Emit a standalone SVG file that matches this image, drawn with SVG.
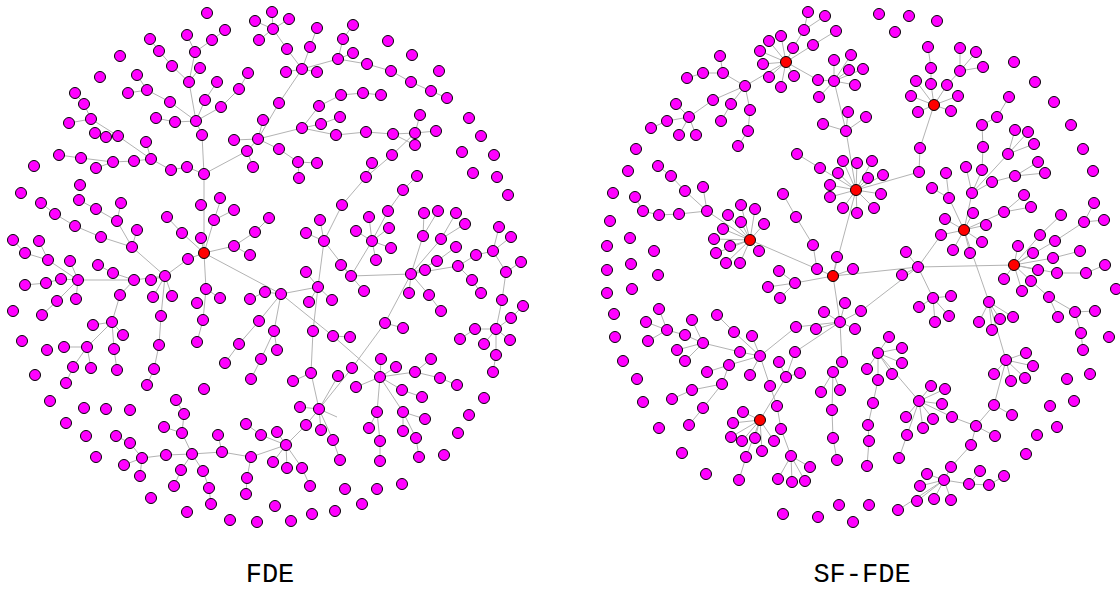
<svg xmlns="http://www.w3.org/2000/svg" width="1120" height="590" viewBox="0 0 1120 590">
<style>
.e{fill:none;stroke:#b3b3b3;stroke-width:1}
.nodes circle{r:5.5px;fill:#ff00ff;stroke:#000;stroke-width:1}
.nodes circle.h{fill:#ff0000}
.lbl{font-family:"Liberation Mono","DejaVu Sans Mono",monospace;font-size:27px;fill:#000;text-anchor:middle}
</style>
<rect width="1120" height="590" fill="#fff"/>
<g id="connectors">
<path class="e" d="M272,12L273,29M255,21L273,29M289,19L273,29M259,40L273,29M273,29L287,49L302,69M317,28L310,47L302,69M286,72L302,69M317,72L302,69M353,25L343,39L338,59M353,53L338,59M302,69L338,59L367,64L391,71L411,82L431,91L447,98M187,35L195,52L212,40L225,30M195,52L189,82M150,39L159,51L172,66L189,82M200,68L189,82M189,82L196,121M217,82L205,100L196,121M248,73L239,89L221,107L196,121M137,75L147,90L170,102L196,121M128,93L147,90M156,118L175,122L196,121M196,121L202,135L204,174M75,93L84,104L91,119L118,136L151,159M69,123L91,119M146,142L151,159M59,155L81,158L113,162L134,161L151,159M96,168L113,162M151,159L171,170L187,167L204,174M204,174L247,151L258,139L279,103L302,69M247,151L253,167M258,139L234,140M258,139L263,120M258,139L279,149M258,139L302,128M319,106L341,95L363,93L381,95M319,106L302,128M340,117L321,124L302,128M302,128L336,135L366,132L393,134L415,133M420,115L415,133M436,131L415,133M393,134L415,145M415,133L392,155L366,177L342,205L324,241M372,163L366,177M279,149L298,162L317,163M298,162L299,178M417,176L403,190L388,211L372,241"/>
<path class="e" d="M204,174L204,253M221,199L214,220L204,253M234,210L214,220M201,238L204,253M167,217L182,233L204,253M269,218L255,232L234,246L204,253M250,255L234,246M204,253L188,259L165,276L134,280M204,253L206,289L203,320L197,342M220,298L206,289M204,253L281,294M79,200L96,209L117,221L132,247M121,203L117,221M41,203L55,214L75,226L101,237L132,247M137,230L132,247M132,247L165,276M151,280L165,276M153,297L165,276M172,296L165,276M165,276L161,316L159,345L154,369L147,385M98,265L113,273L134,280M134,280L78,280L61,279L46,283L25,285M70,261L78,280M48,260L78,280M39,241L48,260M13,240L25,253L48,260M76,299L78,280M42,315L57,301L78,280M134,280L120,295L112,322M93,325L112,322M123,335L112,322M117,370L114,349L112,322M64,347L87,347L112,322M66,383L73,367L87,347M91,368L87,347M281,294L265,292L250,299M281,294L259,321L239,344L225,363M281,294L274,331L261,359L251,379M274,331L277,350"/>
<path class="e" d="M324,241L320,220M324,241L306,233M324,241L318,287M324,241L351,276M351,276L341,265M351,276L364,291M351,276L411,274M351,276L372,241M372,241L369,217M372,241L356,231M372,241L389,228M372,241L391,248M372,241L376,260M318,287L281,294M306,272L318,287M332,300L318,287M309,302L318,287M318,287L313,331L311,373L293,381M311,373L319,409M281,294L333,336L380,377M333,336L350,337M411,274L409,293M411,274L429,295L441,311M411,274L423,236L424,213M423,236L438,211M411,274L441,239L456,213M441,239L465,224M411,274L437,261L456,247M411,274L425,270M411,274L458,266M458,266L476,255L493,251M458,266L472,280L481,293M493,251L499,227M493,251L511,237M493,251L506,272L502,300L496,329M506,272L521,262M496,329L475,329L460,339M496,329L484,344M496,329L510,340M496,329L511,318L523,306M496,329L496,355L493,372M411,274L385,323L352,368L319,409M385,323L403,328M338,376L319,409M380,377L381,359M380,377L396,367M380,377L415,372L431,359M415,372L440,378L457,385M380,377L356,387"/>
<path class="e" d="M176,400L184,414L182,433L192,454M164,427L182,433M116,436L130,443L142,458M124,465L142,458M140,476L142,458M142,458L166,455L192,454L222,452L251,457M218,435L222,452M192,454L181,470L174,486M192,454L203,471L209,488L211,504M251,457L247,478L246,494M251,457L286,445M246,424L261,435L286,445M277,432L286,445M273,462L286,445M287,468L286,445M286,445L302,468L310,486M286,445L306,425L319,409M319,409L300,407M319,409L337,417M319,409L321,430M319,409L333,440L340,460M380,377L377,412L369,428M377,412L380,441L380,461M380,377L403,412L425,419M403,412L403,431M403,412L416,438L419,457M380,377L402,390L422,397"/>
<path class="e" d="M808,12L804,30M825,16L804,30M804,30L793,48L786,62M836,31L813,45L786,62M786,62L769,41M786,62L781,36M786,62L760,51M786,62L763,64M786,62L769,77M786,62L794,76M786,62L781,87M786,62L818,80L834,81M786,62L745,86M745,86L723,73L720,56M723,73L703,73L687,78M745,86L731,104L721,121M745,86L750,110L748,131L738,146M745,86L713,100L689,117M689,117L667,121L651,128M689,117L679,135M689,117L696,135M689,117L676,104M834,81L834,60M834,81L851,55M834,81L849,70M834,81L855,85M834,81L819,97M834,81L863,69M834,81L846,131M848,112L846,131M823,124L846,131M866,117L846,131M846,131L856,190M797,154L820,168L856,190M843,161L856,190M857,163L856,190M872,161L856,190M838,173L856,190M830,185L856,190M830,197L856,190M868,178L856,190M883,175L856,190M881,194L856,190M843,208L856,190M857,213L856,190M874,208L856,190M856,190L919,172L920,148L934,105M934,105L947,85L960,71M960,48L960,71M976,52L960,71M983,67L960,71M928,47L931,68L931,84L934,105M916,81L934,105M911,96L934,105M958,96L934,105M918,112L934,105M951,111L934,105M856,190L833,276"/>
<path class="e" d="M932,188L949,198L964,230M946,173L949,198M964,230L972,193M964,230L945,219M964,230L973,213M964,230L986,225M964,230L941,235M964,230L982,242M964,230L953,250M964,230L970,253M964,230L1004,212M1004,212L1024,195M1004,212L1031,207M972,193L966,167M972,193L982,170L983,147L982,125L997,117L1009,97M972,193L992,182L1015,176L1038,162M1015,176L1045,173M972,193L1008,154M1008,154L1015,130M1008,154L1028,132M1008,154L1034,144M964,230L989,302M989,302L979,322M989,302L1000,319M989,302L1013,317M989,302L992,330M989,302L1006,360M1006,360L1026,353M1006,360L1033,366M1006,360L994,374M1006,360L1025,378M1006,360L1011,381M1006,360L994,405M994,405L1012,415M994,405L976,426M976,426L952,417L919,401M976,426L995,436M976,426L971,445L951,467L944,480M919,401L931,386M919,401L945,389M919,401L942,404M919,401L906,417M919,401L933,419M919,401L923,428M919,401L907,435L899,458M878,353L919,401M878,353L889,337M878,353L902,348M878,353L867,369M878,353L892,374M878,353L878,380M878,353L902,363M878,380L873,403L868,425L869,441L867,466M944,480L927,474M944,480L920,486M944,480L969,484M944,480L917,501M944,480L934,499M944,480L951,500M944,480L898,510M969,484L980,471M969,484L989,485L1004,476"/>
<path class="e" d="M941,235L918,267M918,267L906,252M918,267L902,275M918,267L933,298M933,298L951,296M933,298L919,307M933,298L935,322M933,298L949,316M918,267L1014,265M833,276L918,267M918,267L861,311L840,322M1014,265L1004,279M1014,265L1022,291M1014,265L1038,270M1014,265L1018,246M1014,265L1033,253M1014,265L1031,281M1014,265L1057,273M1014,265L1040,235M1014,265L1055,241M1014,265L1053,258M1040,235L1061,215M1055,241L1084,222L1094,203M1084,222L1104,220M1053,258L1080,251M1057,273L1086,273L1105,265M1031,281L1049,297L1075,312L1095,311M1049,297L1058,317M1075,312L1081,333L1083,350"/>
<path class="e" d="M750,240L741,205M750,240L755,209M750,240L728,215M750,240L741,222M750,240L764,224M750,240L723,229M750,240L714,239M750,240L730,246M750,240L716,253M750,240L759,251M750,240L726,263M750,240L740,263M750,240L707,211M707,211L679,214L659,215L643,211L635,197M707,211L685,191L671,176L658,166M707,211L703,187M750,240L817,269L833,276M783,194L796,217L813,245L817,269M833,276L837,257M833,276L853,269M833,276L795,283M795,283L779,271M795,283L768,287M795,283L780,298M833,276L840,322L842,362L833,372L832,410L833,438L837,460M833,372L821,392M833,372L840,390M840,322L845,303M840,322L824,312M840,322L816,329M840,322L855,329M840,322L796,327M840,322L795,352L786,377L760,420M786,377L779,362M786,377L800,373M796,327L760,356M703,343L740,352L760,356M717,315L734,332L760,356M752,336L760,356M707,372L729,365L760,356M750,375L760,356M729,365L722,384M760,356L770,386L777,406L781,429L791,456M791,456L810,467M791,456L778,479M791,456L792,482M791,456L805,481M703,343L685,335L667,330M703,343L692,320M703,343L677,350M703,343L685,361M667,330L659,309M667,330L646,322M667,330L648,341M760,420L743,412M760,420L733,423M760,420L731,437M760,420L742,441M760,420L755,438M760,420L774,441M760,420L762,451M760,420L746,457M746,457L739,480M722,384L692,390L672,399M722,384L703,408L689,425"/>
</g>
<g id="fde-nodes" class="nodes">
<circle id="f1" cx="207" cy="13"/><circle id="f2" cx="272" cy="12"/><circle id="f3" cx="255" cy="21"/><circle id="f4" cx="289" cy="19"/><circle id="f5" cx="273" cy="29"/><circle id="f6" cx="225" cy="30"/><circle id="f7" cx="187" cy="35"/><circle id="f8" cx="150" cy="39"/><circle id="f9" cx="212" cy="40"/><circle id="f10" cx="259" cy="40"/>
<circle id="f11" cx="317" cy="28"/><circle id="f12" cx="353" cy="25"/><circle id="f13" cx="388" cy="41"/><circle id="f14" cx="343" cy="39"/><circle id="f15" cx="310" cy="47"/><circle id="f16" cx="287" cy="49"/><circle id="f17" cx="159" cy="51"/><circle id="f18" cx="195" cy="52"/><circle id="f19" cx="353" cy="53"/><circle id="f20" cx="412" cy="55"/>
<circle id="f21" cx="120" cy="56"/><circle id="f22" cx="338" cy="59"/><circle id="f23" cx="367" cy="64"/><circle id="f24" cx="172" cy="66"/><circle id="f25" cx="200" cy="68"/><circle id="f26" cx="302" cy="69"/><circle id="f27" cx="286" cy="72"/><circle id="f28" cx="317" cy="72"/><circle id="f29" cx="391" cy="71"/><circle id="f30" cx="439" cy="71"/>
<circle id="f31" cx="248" cy="73"/><circle id="f32" cx="137" cy="75"/><circle id="f33" cx="100" cy="77"/><circle id="f34" cx="189" cy="82"/><circle id="f35" cx="217" cy="82"/><circle id="f36" cx="411" cy="82"/><circle id="f37" cx="239" cy="89"/><circle id="f38" cx="147" cy="90"/><circle id="f39" cx="128" cy="93"/><circle id="f40" cx="75" cy="93"/>
<circle id="f41" cx="431" cy="91"/><circle id="f42" cx="341" cy="95"/><circle id="f43" cx="363" cy="93"/><circle id="f44" cx="381" cy="95"/><circle id="f45" cx="447" cy="98"/><circle id="f46" cx="205" cy="100"/><circle id="f47" cx="170" cy="102"/><circle id="f48" cx="279" cy="103"/><circle id="f49" cx="84" cy="104"/><circle id="f50" cx="319" cy="106"/>
<circle id="f51" cx="221" cy="107"/><circle id="f52" cx="340" cy="117"/><circle id="f53" cx="420" cy="115"/><circle id="f54" cx="469" cy="118"/><circle id="f55" cx="156" cy="118"/><circle id="f56" cx="91" cy="119"/><circle id="f57" cx="263" cy="120"/><circle id="f58" cx="196" cy="121"/><circle id="f59" cx="175" cy="122"/><circle id="f60" cx="69" cy="123"/>
<circle id="f61" cx="321" cy="124"/><circle id="f62" cx="302" cy="128"/><circle id="f63" cx="436" cy="131"/><circle id="f64" cx="393" cy="134"/><circle id="f65" cx="415" cy="133"/><circle id="f66" cx="366" cy="132"/><circle id="f67" cx="336" cy="135"/><circle id="f68" cx="481" cy="136"/><circle id="f69" cx="95" cy="133"/><circle id="f70" cx="106" cy="137"/>
<circle id="f71" cx="118" cy="136"/><circle id="f72" cx="202" cy="135"/><circle id="f73" cx="234" cy="140"/><circle id="f74" cx="258" cy="139"/><circle id="f75" cx="146" cy="142"/><circle id="f76" cx="415" cy="145"/><circle id="f77" cx="279" cy="149"/><circle id="f78" cx="247" cy="151"/><circle id="f79" cx="462" cy="152"/><circle id="f80" cx="494" cy="155"/>
<circle id="f81" cx="392" cy="155"/><circle id="f82" cx="59" cy="155"/><circle id="f83" cx="81" cy="158"/><circle id="f84" cx="151" cy="159"/><circle id="f85" cx="134" cy="161"/><circle id="f86" cx="113" cy="162"/><circle id="f87" cx="298" cy="162"/><circle id="f88" cx="317" cy="163"/><circle id="f89" cx="372" cy="163"/><circle id="f90" cx="34" cy="166"/>
<circle id="f91" cx="96" cy="168"/><circle id="f92" cx="171" cy="170"/><circle id="f93" cx="187" cy="167"/><circle id="f94" cx="253" cy="167"/><circle id="f95" cx="204" cy="174"/><circle id="f96" cx="473" cy="173"/><circle id="f97" cx="497" cy="177"/><circle id="f98" cx="366" cy="177"/><circle id="f99" cx="417" cy="176"/><circle id="f100" cx="299" cy="178"/>
<circle id="f101" cx="80" cy="185"/><circle id="f102" cx="21" cy="193"/><circle id="f103" cx="220" cy="198"/><circle id="f104" cx="403" cy="190"/><circle id="f105" cx="508" cy="195"/><circle id="f106" cx="79" cy="200"/><circle id="f107" cx="41" cy="203"/><circle id="f108" cx="121" cy="203"/><circle id="f109" cx="201" cy="205"/><circle id="f110" cx="342" cy="205"/>
<circle id="f111" cx="96" cy="209"/><circle id="f112" cx="234" cy="210"/><circle id="f113" cx="388" cy="211"/><circle id="f114" cx="424" cy="213"/><circle id="f115" cx="438" cy="211"/><circle id="f116" cx="456" cy="213"/><circle id="f117" cx="55" cy="214"/><circle id="f118" cx="214" cy="220"/><circle id="f119" cx="117" cy="221"/><circle id="f120" cx="320" cy="220"/>
<circle id="f121" cx="369" cy="217"/><circle id="f122" cx="167" cy="217"/><circle id="f123" cx="269" cy="218"/><circle id="f124" cx="75" cy="226"/><circle id="f125" cx="137" cy="230"/><circle id="f126" cx="356" cy="231"/><circle id="f127" cx="389" cy="228"/><circle id="f128" cx="465" cy="224"/><circle id="f129" cx="499" cy="227"/><circle id="f130" cx="182" cy="233"/>
<circle id="f131" cx="306" cy="233"/><circle id="f132" cx="255" cy="232"/><circle id="f133" cx="101" cy="237"/><circle id="f134" cx="201" cy="238"/><circle id="f135" cx="423" cy="236"/><circle id="f136" cx="441" cy="239"/><circle id="f137" cx="511" cy="237"/><circle id="f138" cx="13" cy="240"/><circle id="f139" cx="39" cy="241"/><circle id="f140" cx="324" cy="241"/>
<circle id="f141" cx="372" cy="241"/><circle id="f142" cx="234" cy="246"/><circle id="f143" cx="132" cy="247"/><circle id="f144" cx="391" cy="248"/><circle id="f145" cx="456" cy="247"/><circle id="f146" cx="25" cy="253"/><circle id="f147" cx="250" cy="255"/><circle id="f148" cx="493" cy="251"/><circle id="f149" cx="476" cy="255"/><circle id="f150" cx="48" cy="260"/>
<circle id="f151" cx="70" cy="261"/><circle id="f152" cx="188" cy="259"/><circle id="f153" cx="376" cy="260"/><circle id="f154" cx="437" cy="261"/><circle id="f155" cx="521" cy="262"/><circle id="f156" cx="98" cy="265"/><circle id="f157" cx="341" cy="265"/><circle id="f158" cx="458" cy="266"/><circle id="f159" cx="425" cy="270"/><circle id="f160" cx="113" cy="273"/>
<circle id="f161" cx="165" cy="276"/><circle id="f162" cx="351" cy="276"/><circle id="f163" cx="411" cy="274"/><circle id="f164" cx="306" cy="272"/><circle id="f165" cx="506" cy="272"/><circle id="f166" cx="78" cy="280"/><circle id="f167" cx="61" cy="279"/><circle id="f168" cx="46" cy="283"/><circle id="f169" cx="25" cy="285"/><circle id="f170" cx="134" cy="280"/>
<circle id="f171" cx="151" cy="280"/><circle id="f172" cx="472" cy="280"/><circle id="f173" cx="206" cy="289"/><circle id="f174" cx="318" cy="287"/><circle id="f175" cx="281" cy="294"/><circle id="f176" cx="265" cy="292"/><circle id="f177" cx="364" cy="291"/><circle id="f178" cx="409" cy="293"/><circle id="f179" cx="481" cy="293"/><circle id="f180" cx="120" cy="295"/>
<circle id="f181" cx="153" cy="297"/><circle id="f182" cx="172" cy="296"/><circle id="f183" cx="429" cy="295"/><circle id="f184" cx="76" cy="299"/><circle id="f185" cx="57" cy="301"/><circle id="f186" cx="220" cy="298"/><circle id="f187" cx="250" cy="299"/><circle id="f188" cx="332" cy="300"/><circle id="f189" cx="309" cy="302"/><circle id="f190" cx="502" cy="300"/>
<circle id="f191" cx="197" cy="303"/><circle id="f192" cx="523" cy="306"/><circle id="f193" cx="13" cy="311"/><circle id="f194" cx="42" cy="315"/><circle id="f195" cx="161" cy="316"/><circle id="f196" cx="441" cy="311"/><circle id="f197" cx="203" cy="320"/><circle id="f198" cx="259" cy="321"/><circle id="f199" cx="112" cy="322"/><circle id="f200" cx="93" cy="325"/>
<circle id="f201" cx="385" cy="323"/><circle id="f202" cx="403" cy="328"/><circle id="f203" cx="511" cy="318"/><circle id="f204" cx="123" cy="335"/><circle id="f205" cx="274" cy="331"/><circle id="f206" cx="313" cy="331"/><circle id="f207" cx="333" cy="336"/><circle id="f208" cx="350" cy="337"/><circle id="f209" cx="475" cy="329"/><circle id="f210" cx="496" cy="329"/>
<circle id="f211" cx="22" cy="341"/><circle id="f212" cx="197" cy="342"/><circle id="f213" cx="239" cy="344"/><circle id="f214" cx="460" cy="339"/><circle id="f215" cx="484" cy="344"/><circle id="f216" cx="510" cy="340"/><circle id="f217" cx="64" cy="347"/><circle id="f218" cx="87" cy="347"/><circle id="f219" cx="47" cy="350"/><circle id="f220" cx="114" cy="349"/>
<circle id="f221" cx="159" cy="345"/><circle id="f222" cx="277" cy="350"/><circle id="f223" cx="496" cy="355"/><circle id="f224" cx="261" cy="359"/><circle id="f225" cx="225" cy="363"/><circle id="f226" cx="381" cy="359"/><circle id="f227" cx="431" cy="359"/><circle id="f228" cx="73" cy="367"/><circle id="f229" cx="91" cy="368"/><circle id="f230" cx="117" cy="370"/>
<circle id="f231" cx="154" cy="369"/><circle id="f232" cx="311" cy="373"/><circle id="f233" cx="352" cy="368"/><circle id="f234" cx="396" cy="367"/><circle id="f235" cx="415" cy="372"/><circle id="f236" cx="493" cy="372"/><circle id="f237" cx="35" cy="375"/><circle id="f238" cx="66" cy="383"/><circle id="f239" cx="147" cy="385"/><circle id="f240" cx="251" cy="379"/>
<circle id="f241" cx="204" cy="389"/><circle id="f242" cx="293" cy="381"/><circle id="f243" cx="338" cy="376"/><circle id="f244" cx="380" cy="377"/><circle id="f245" cx="356" cy="387"/><circle id="f246" cx="440" cy="378"/><circle id="f247" cx="457" cy="385"/><circle id="f248" cx="402" cy="390"/><circle id="f249" cx="422" cy="397"/><circle id="f250" cx="484" cy="398"/>
<circle id="f251" cx="176" cy="400"/><circle id="f252" cx="50" cy="401"/><circle id="f253" cx="84" cy="408"/><circle id="f254" cx="106" cy="409"/><circle id="f255" cx="130" cy="410"/><circle id="f256" cx="300" cy="407"/><circle id="f257" cx="319" cy="409"/><circle id="f258" cx="377" cy="412"/><circle id="f259" cx="403" cy="412"/><circle id="f260" cx="184" cy="414"/>
<circle id="f261" cx="469" cy="415"/><circle id="f262" cx="425" cy="419"/><circle id="f263" cx="66" cy="423"/><circle id="f264" cx="246" cy="424"/><circle id="f265" cx="306" cy="425"/><circle id="f266" cx="164" cy="427"/><circle id="f267" cx="321" cy="430"/><circle id="f268" cx="369" cy="428"/><circle id="f269" cx="403" cy="431"/><circle id="f270" cx="182" cy="433"/>
<circle id="f271" cx="218" cy="435"/><circle id="f272" cx="261" cy="435"/><circle id="f273" cx="277" cy="432"/><circle id="f274" cx="86" cy="436"/><circle id="f275" cx="116" cy="436"/><circle id="f276" cx="458" cy="433"/><circle id="f277" cx="333" cy="440"/><circle id="f278" cx="380" cy="441"/><circle id="f279" cx="416" cy="438"/><circle id="f280" cx="130" cy="443"/>
<circle id="f281" cx="286" cy="445"/><circle id="f282" cx="222" cy="452"/><circle id="f283" cx="192" cy="454"/><circle id="f284" cx="166" cy="455"/><circle id="f285" cx="444" cy="455"/><circle id="f286" cx="96" cy="457"/><circle id="f287" cx="142" cy="458"/><circle id="f288" cx="251" cy="457"/><circle id="f289" cx="419" cy="457"/><circle id="f290" cx="340" cy="460"/>
<circle id="f291" cx="380" cy="461"/><circle id="f292" cx="273" cy="462"/><circle id="f293" cx="124" cy="465"/><circle id="f294" cx="287" cy="468"/><circle id="f295" cx="302" cy="468"/><circle id="f296" cx="181" cy="470"/><circle id="f297" cx="203" cy="471"/><circle id="f298" cx="140" cy="476"/><circle id="f299" cx="247" cy="478"/><circle id="f300" cx="174" cy="486"/>
<circle id="f301" cx="310" cy="486"/><circle id="f302" cx="209" cy="488"/><circle id="f303" cx="345" cy="489"/><circle id="f304" cx="377" cy="489"/><circle id="f305" cx="402" cy="484"/><circle id="f306" cx="246" cy="494"/><circle id="f307" cx="151" cy="498"/><circle id="f308" cx="211" cy="504"/><circle id="f309" cx="362" cy="504"/><circle id="f310" cx="275" cy="506"/>
<circle id="f311" cx="187" cy="512"/><circle id="f312" cx="312" cy="514"/><circle id="f313" cx="335" cy="511"/><circle id="f314" cx="230" cy="520"/><circle id="f315" cx="257" cy="522"/><circle id="f316" cx="291" cy="521"/>
<circle id="f-hub" class="h" cx="204" cy="253"/>
</g>
<g id="sffde-nodes" class="nodes">
<circle id="s1" cx="808" cy="12"/><circle id="s2" cx="879" cy="14"/><circle id="s3" cx="909" cy="16"/><circle id="s4" cx="825" cy="16"/><circle id="s5" cx="937" cy="21"/><circle id="s6" cx="804" cy="30"/><circle id="s7" cx="836" cy="31"/><circle id="s8" cx="895" cy="32"/><circle id="s9" cx="781" cy="36"/><circle id="s10" cx="769" cy="41"/>
<circle id="s11" cx="813" cy="45"/><circle id="s12" cx="928" cy="47"/><circle id="s13" cx="960" cy="48"/><circle id="s14" cx="793" cy="48"/><circle id="s15" cx="760" cy="51"/><circle id="s16" cx="976" cy="52"/><circle id="s17" cx="851" cy="55"/><circle id="s18" cx="720" cy="56"/><circle id="s19" cx="834" cy="60"/><circle id="s20" cx="1014" cy="62"/>
<circle id="s21" cx="763" cy="64"/><circle id="s22" cx="983" cy="67"/><circle id="s23" cx="931" cy="68"/><circle id="s24" cx="849" cy="70"/><circle id="s25" cx="863" cy="69"/><circle id="s26" cx="960" cy="71"/><circle id="s27" cx="703" cy="73"/><circle id="s28" cx="723" cy="73"/><circle id="s29" cx="794" cy="76"/><circle id="s30" cx="769" cy="77"/>
<circle id="s31" cx="687" cy="78"/><circle id="s32" cx="818" cy="80"/><circle id="s33" cx="834" cy="81"/><circle id="s34" cx="916" cy="81"/><circle id="s35" cx="1035" cy="82"/><circle id="s36" cx="931" cy="84"/><circle id="s37" cx="947" cy="85"/><circle id="s38" cx="855" cy="85"/><circle id="s39" cx="745" cy="86"/><circle id="s40" cx="781" cy="87"/>
<circle id="s41" cx="911" cy="96"/><circle id="s42" cx="958" cy="96"/><circle id="s43" cx="1009" cy="97"/><circle id="s44" cx="819" cy="97"/><circle id="s45" cx="713" cy="100"/><circle id="s46" cx="1054" cy="102"/><circle id="s47" cx="676" cy="104"/><circle id="s48" cx="731" cy="104"/><circle id="s49" cx="750" cy="110"/><circle id="s50" cx="918" cy="112"/>
<circle id="s51" cx="951" cy="111"/><circle id="s52" cx="848" cy="112"/><circle id="s53" cx="689" cy="117"/><circle id="s54" cx="866" cy="117"/><circle id="s55" cx="997" cy="117"/><circle id="s56" cx="667" cy="121"/><circle id="s57" cx="721" cy="121"/><circle id="s58" cx="823" cy="124"/><circle id="s59" cx="982" cy="125"/><circle id="s60" cx="1071" cy="125"/>
<circle id="s61" cx="651" cy="128"/><circle id="s62" cx="846" cy="131"/><circle id="s63" cx="748" cy="131"/><circle id="s64" cx="1015" cy="130"/><circle id="s65" cx="1028" cy="132"/><circle id="s66" cx="679" cy="135"/><circle id="s67" cx="696" cy="135"/><circle id="s68" cx="1034" cy="144"/><circle id="s69" cx="738" cy="146"/><circle id="s70" cx="920" cy="148"/>
<circle id="s71" cx="983" cy="147"/><circle id="s72" cx="636" cy="149"/><circle id="s73" cx="1083" cy="149"/><circle id="s74" cx="797" cy="154"/><circle id="s75" cx="1008" cy="154"/><circle id="s76" cx="843" cy="161"/><circle id="s77" cx="857" cy="163"/><circle id="s78" cx="872" cy="161"/><circle id="s79" cx="1038" cy="162"/><circle id="s80" cx="658" cy="166"/>
<circle id="s81" cx="966" cy="167"/><circle id="s82" cx="820" cy="168"/><circle id="s83" cx="982" cy="170"/><circle id="s84" cx="628" cy="171"/><circle id="s85" cx="919" cy="172"/><circle id="s86" cx="946" cy="173"/><circle id="s87" cx="838" cy="173"/><circle id="s88" cx="1045" cy="173"/><circle id="s89" cx="1093" cy="171"/><circle id="s90" cx="671" cy="176"/>
<circle id="s91" cx="883" cy="175"/><circle id="s92" cx="1015" cy="176"/><circle id="s93" cx="868" cy="178"/><circle id="s94" cx="992" cy="182"/><circle id="s95" cx="830" cy="185"/><circle id="s96" cx="703" cy="187"/><circle id="s97" cx="932" cy="188"/><circle id="s98" cx="685" cy="191"/><circle id="s99" cx="613" cy="193"/><circle id="s100" cx="972" cy="193"/>
<circle id="s101" cx="783" cy="194"/><circle id="s102" cx="881" cy="194"/><circle id="s103" cx="1024" cy="195"/><circle id="s104" cx="635" cy="197"/><circle id="s105" cx="830" cy="197"/><circle id="s106" cx="949" cy="198"/><circle id="s107" cx="1094" cy="203"/><circle id="s108" cx="741" cy="205"/><circle id="s109" cx="1031" cy="207"/><circle id="s110" cx="843" cy="208"/>
<circle id="s111" cx="874" cy="208"/><circle id="s112" cx="643" cy="211"/><circle id="s113" cx="707" cy="211"/><circle id="s114" cx="755" cy="209"/><circle id="s115" cx="1004" cy="212"/><circle id="s116" cx="659" cy="215"/><circle id="s117" cx="679" cy="214"/><circle id="s118" cx="728" cy="215"/><circle id="s119" cx="857" cy="213"/><circle id="s120" cx="973" cy="213"/>
<circle id="s121" cx="796" cy="217"/><circle id="s122" cx="945" cy="219"/><circle id="s123" cx="1061" cy="215"/><circle id="s124" cx="610" cy="221"/><circle id="s125" cx="741" cy="222"/><circle id="s126" cx="764" cy="224"/><circle id="s127" cx="1084" cy="222"/><circle id="s128" cx="1104" cy="220"/><circle id="s129" cx="986" cy="225"/><circle id="s130" cx="723" cy="229"/>
<circle id="s131" cx="630" cy="238"/><circle id="s132" cx="714" cy="239"/><circle id="s133" cx="941" cy="235"/><circle id="s134" cx="1040" cy="235"/><circle id="s135" cx="1055" cy="241"/><circle id="s136" cx="982" cy="242"/><circle id="s137" cx="607" cy="246"/><circle id="s138" cx="730" cy="246"/><circle id="s139" cx="813" cy="245"/><circle id="s140" cx="1018" cy="246"/>
<circle id="s141" cx="654" cy="251"/><circle id="s142" cx="716" cy="253"/><circle id="s143" cx="759" cy="251"/><circle id="s144" cx="953" cy="250"/><circle id="s145" cx="970" cy="253"/><circle id="s146" cx="906" cy="252"/><circle id="s147" cx="1033" cy="253"/><circle id="s148" cx="1080" cy="251"/><circle id="s149" cx="837" cy="257"/><circle id="s150" cx="1053" cy="258"/>
<circle id="s151" cx="726" cy="263"/><circle id="s152" cx="740" cy="263"/><circle id="s153" cx="631" cy="264"/><circle id="s154" cx="1105" cy="265"/><circle id="s155" cx="918" cy="267"/><circle id="s156" cx="817" cy="269"/><circle id="s157" cx="853" cy="269"/><circle id="s158" cx="607" cy="270"/><circle id="s159" cx="779" cy="271"/><circle id="s160" cx="1038" cy="270"/>
<circle id="s161" cx="1057" cy="273"/><circle id="s162" cx="1086" cy="273"/><circle id="s163" cx="658" cy="275"/><circle id="s164" cx="902" cy="275"/><circle id="s165" cx="1004" cy="279"/><circle id="s166" cx="1031" cy="281"/><circle id="s167" cx="795" cy="283"/><circle id="s168" cx="768" cy="287"/><circle id="s169" cx="632" cy="289"/><circle id="s170" cx="1116" cy="289"/>
<circle id="s171" cx="607" cy="293"/><circle id="s172" cx="1022" cy="291"/><circle id="s173" cx="780" cy="298"/><circle id="s174" cx="933" cy="298"/><circle id="s175" cx="951" cy="296"/><circle id="s176" cx="1049" cy="297"/><circle id="s177" cx="989" cy="302"/><circle id="s178" cx="845" cy="303"/><circle id="s179" cx="659" cy="309"/><circle id="s180" cx="861" cy="311"/>
<circle id="s181" cx="824" cy="312"/><circle id="s182" cx="614" cy="314"/><circle id="s183" cx="717" cy="315"/><circle id="s184" cx="919" cy="307"/><circle id="s185" cx="949" cy="316"/><circle id="s186" cx="1000" cy="319"/><circle id="s187" cx="1013" cy="317"/><circle id="s188" cx="1058" cy="317"/><circle id="s189" cx="1075" cy="312"/><circle id="s190" cx="1095" cy="311"/>
<circle id="s191" cx="692" cy="320"/><circle id="s192" cx="646" cy="322"/><circle id="s193" cx="840" cy="322"/><circle id="s194" cx="979" cy="322"/><circle id="s195" cx="935" cy="322"/><circle id="s196" cx="667" cy="330"/><circle id="s197" cx="796" cy="327"/><circle id="s198" cx="816" cy="329"/><circle id="s199" cx="855" cy="329"/><circle id="s200" cx="992" cy="330"/>
<circle id="s201" cx="734" cy="332"/><circle id="s202" cx="1081" cy="333"/><circle id="s203" cx="685" cy="335"/><circle id="s204" cx="752" cy="336"/><circle id="s205" cx="615" cy="337"/><circle id="s206" cx="889" cy="337"/><circle id="s207" cx="1109" cy="337"/><circle id="s208" cx="648" cy="341"/><circle id="s209" cx="703" cy="343"/><circle id="s210" cx="677" cy="350"/>
<circle id="s211" cx="740" cy="352"/><circle id="s212" cx="795" cy="352"/><circle id="s213" cx="902" cy="348"/><circle id="s214" cx="878" cy="353"/><circle id="s215" cx="1026" cy="353"/><circle id="s216" cx="1083" cy="350"/><circle id="s217" cx="760" cy="356"/><circle id="s218" cx="1006" cy="360"/><circle id="s219" cx="685" cy="361"/><circle id="s220" cx="623" cy="361"/>
<circle id="s221" cx="779" cy="362"/><circle id="s222" cx="842" cy="362"/><circle id="s223" cx="902" cy="363"/><circle id="s224" cx="729" cy="365"/><circle id="s225" cx="1033" cy="366"/><circle id="s226" cx="867" cy="369"/><circle id="s227" cx="707" cy="372"/><circle id="s228" cx="833" cy="372"/><circle id="s229" cx="800" cy="373"/><circle id="s230" cx="750" cy="375"/>
<circle id="s231" cx="892" cy="374"/><circle id="s232" cx="994" cy="374"/><circle id="s233" cx="1090" cy="374"/><circle id="s234" cx="786" cy="377"/><circle id="s235" cx="1025" cy="378"/><circle id="s236" cx="637" cy="379"/><circle id="s237" cx="878" cy="380"/><circle id="s238" cx="1067" cy="379"/><circle id="s239" cx="1011" cy="381"/><circle id="s240" cx="722" cy="384"/>
<circle id="s241" cx="770" cy="386"/><circle id="s242" cx="931" cy="386"/><circle id="s243" cx="692" cy="390"/><circle id="s244" cx="840" cy="390"/><circle id="s245" cx="945" cy="389"/><circle id="s246" cx="821" cy="392"/><circle id="s247" cx="672" cy="399"/><circle id="s248" cx="643" cy="402"/><circle id="s249" cx="873" cy="403"/><circle id="s250" cx="919" cy="401"/>
<circle id="s251" cx="1074" cy="401"/><circle id="s252" cx="942" cy="404"/><circle id="s253" cx="777" cy="406"/><circle id="s254" cx="994" cy="405"/><circle id="s255" cx="1050" cy="406"/><circle id="s256" cx="703" cy="408"/><circle id="s257" cx="832" cy="410"/><circle id="s258" cx="743" cy="412"/><circle id="s259" cx="1012" cy="415"/><circle id="s260" cx="906" cy="417"/>
<circle id="s261" cx="933" cy="419"/><circle id="s262" cx="952" cy="417"/><circle id="s263" cx="733" cy="423"/><circle id="s264" cx="689" cy="425"/><circle id="s265" cx="868" cy="425"/><circle id="s266" cx="976" cy="426"/><circle id="s267" cx="1057" cy="427"/><circle id="s268" cx="923" cy="428"/><circle id="s269" cx="659" cy="428"/><circle id="s270" cx="781" cy="429"/>
<circle id="s271" cx="731" cy="437"/><circle id="s272" cx="833" cy="438"/><circle id="s273" cx="755" cy="438"/><circle id="s274" cx="907" cy="435"/><circle id="s275" cx="995" cy="436"/><circle id="s276" cx="1037" cy="435"/><circle id="s277" cx="742" cy="441"/><circle id="s278" cx="774" cy="441"/><circle id="s279" cx="869" cy="441"/><circle id="s280" cx="971" cy="445"/>
<circle id="s281" cx="762" cy="451"/><circle id="s282" cx="682" cy="453"/><circle id="s283" cx="1026" cy="454"/><circle id="s284" cx="746" cy="457"/><circle id="s285" cx="791" cy="456"/><circle id="s286" cx="899" cy="458"/><circle id="s287" cx="837" cy="460"/><circle id="s288" cx="810" cy="467"/><circle id="s289" cx="867" cy="466"/><circle id="s290" cx="951" cy="467"/>
<circle id="s291" cx="927" cy="474"/><circle id="s292" cx="706" cy="474"/><circle id="s293" cx="980" cy="471"/><circle id="s294" cx="1004" cy="476"/><circle id="s295" cx="739" cy="480"/><circle id="s296" cx="778" cy="479"/><circle id="s297" cx="792" cy="482"/><circle id="s298" cx="805" cy="481"/><circle id="s299" cx="944" cy="480"/><circle id="s300" cx="920" cy="486"/>
<circle id="s301" cx="969" cy="484"/><circle id="s302" cx="989" cy="485"/><circle id="s303" cx="917" cy="501"/><circle id="s304" cx="934" cy="499"/><circle id="s305" cx="951" cy="500"/><circle id="s306" cx="869" cy="505"/><circle id="s307" cx="839" cy="505"/><circle id="s308" cx="898" cy="510"/><circle id="s309" cx="783" cy="514"/><circle id="s310" cx="818" cy="517"/>
<circle id="s311" cx="853" cy="522"/>
<circle id="s-hub1" class="h" cx="786" cy="62"/><circle id="s-hub2" class="h" cx="934" cy="105"/><circle id="s-hub3" class="h" cx="856" cy="190"/><circle id="s-hub4" class="h" cx="964" cy="230"/><circle id="s-hub5" class="h" cx="750" cy="240"/><circle id="s-hub6" class="h" cx="1014" cy="265"/><circle id="s-hub7" class="h" cx="833" cy="276"/><circle id="s-hub8" class="h" cx="760" cy="420"/>
</g>
<text class="lbl" x="270" y="582">FDE</text>
<text class="lbl" x="862" y="582">SF-FDE</text>
</svg>
